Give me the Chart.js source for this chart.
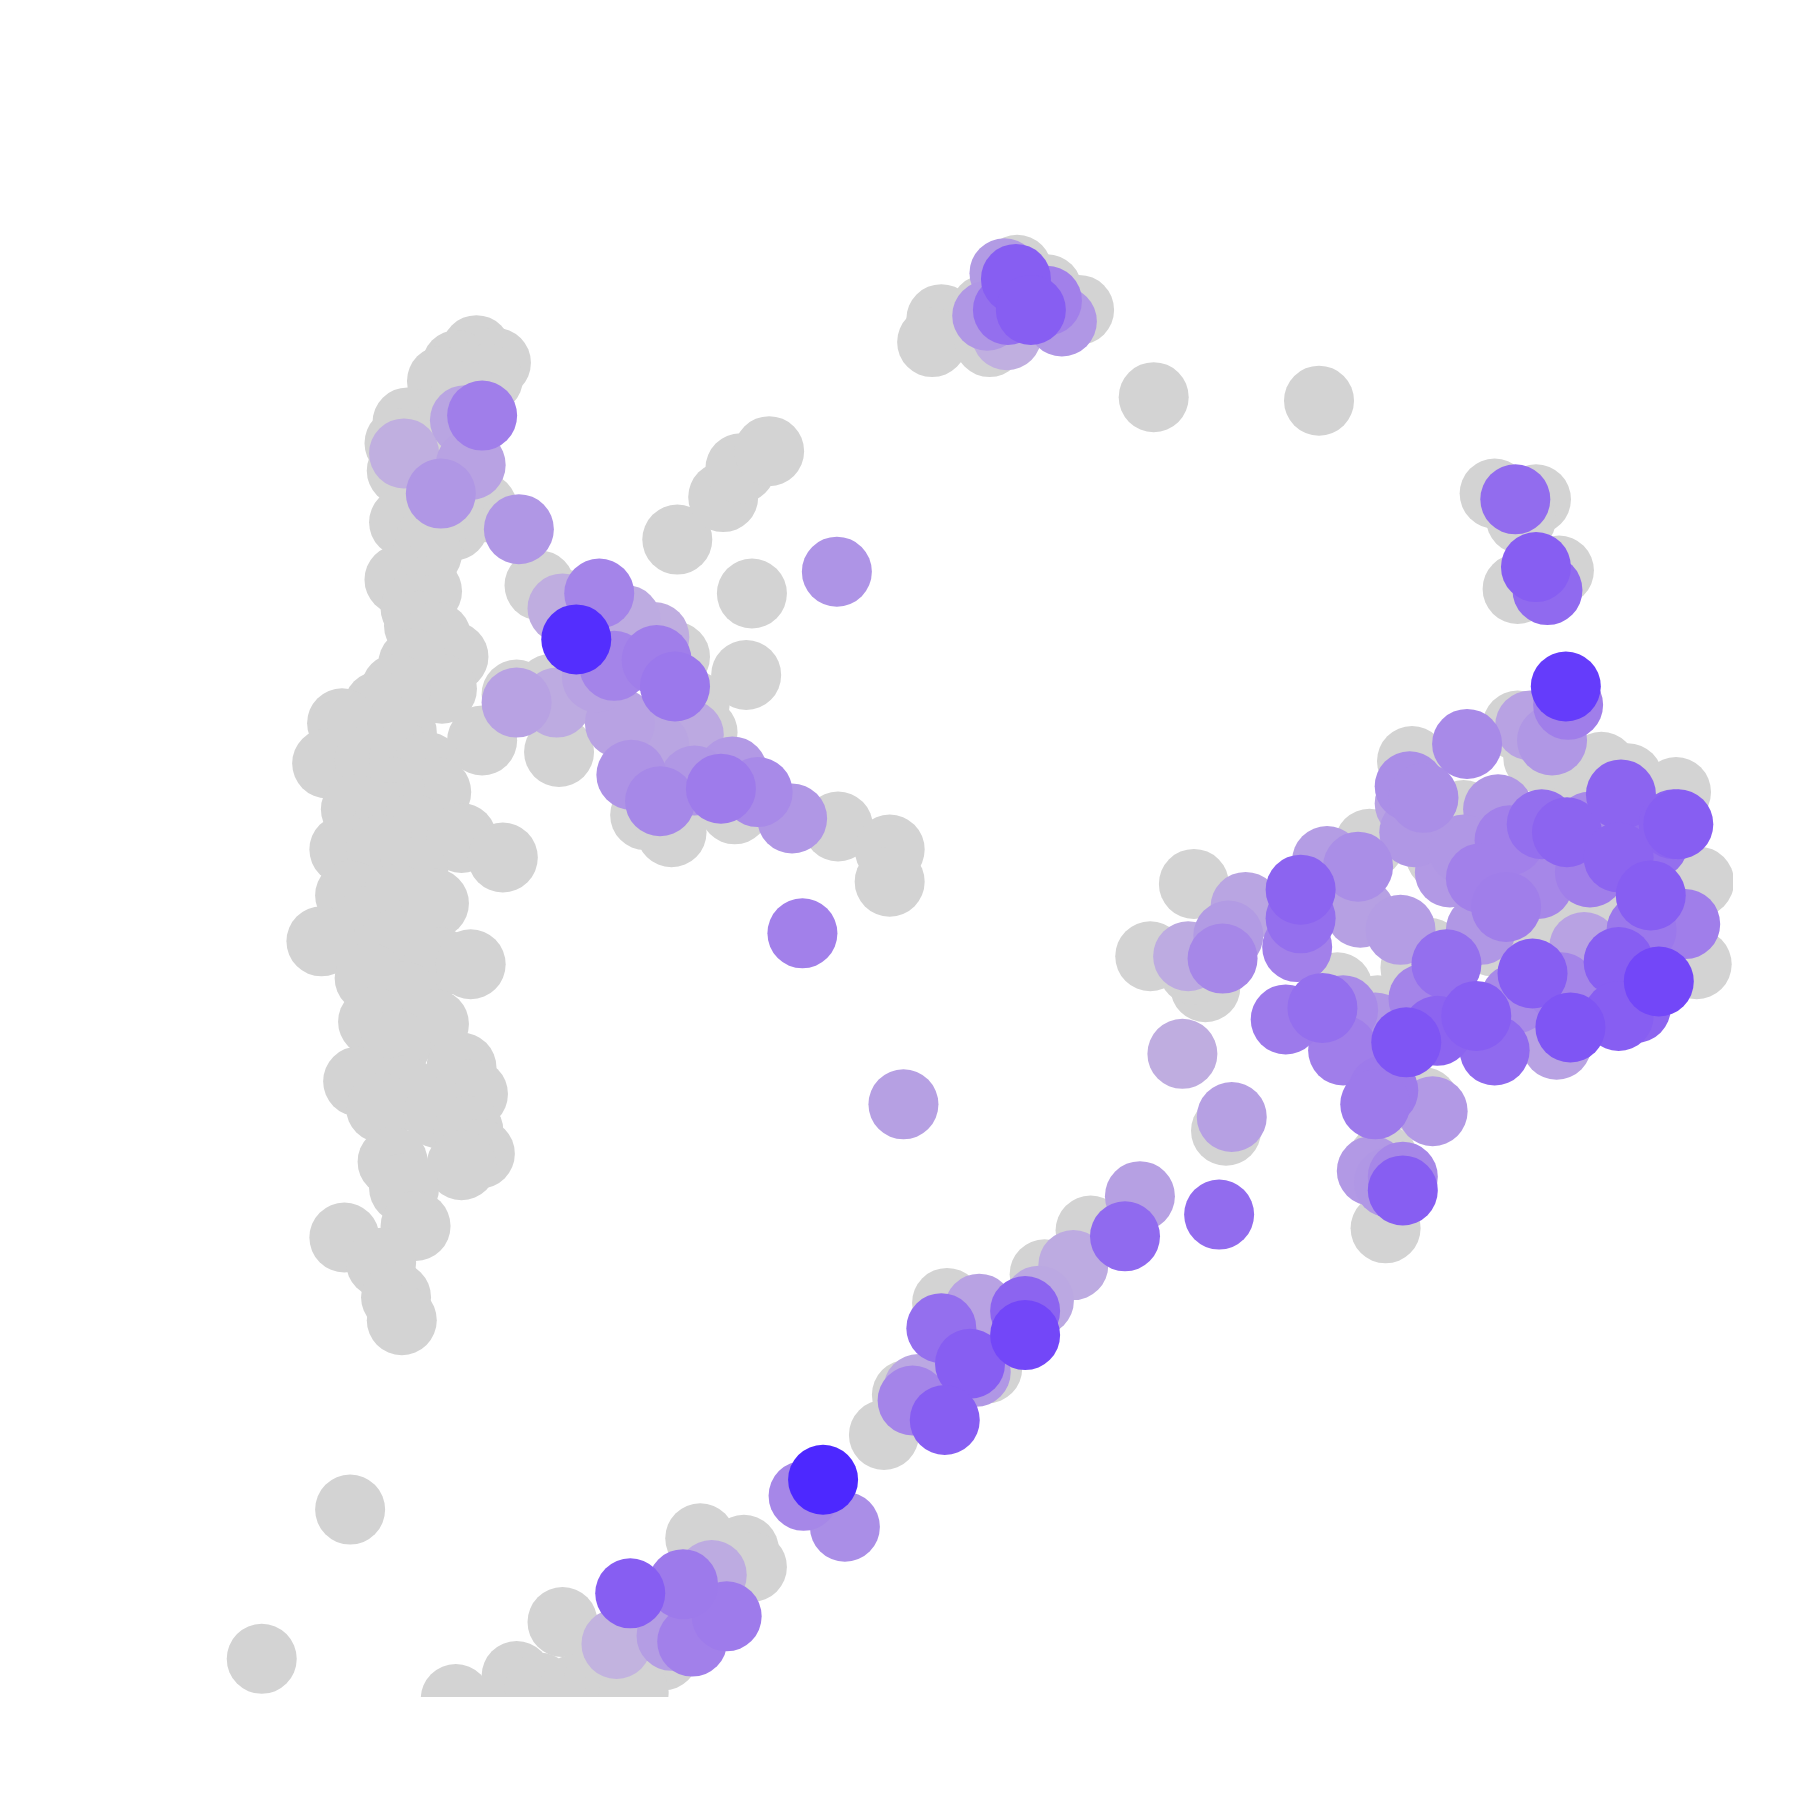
<!DOCTYPE html>
<html>
<head>
<meta charset="utf-8">
<script src="https://cdn.jsdelivr.net/npm/chart.js@4.4.1/dist/chart.umd.min.js"></script>
<style>
html,body{margin:0;padding:0;background:#ffffff;}
#wrap{width:1800px;height:1800px;position:relative;}
</style>
</head>
<body>
<div id="wrap"><canvas id="c"></canvas></div>
<script>
// Background (non-expressing) points: x, y
const greyX = [415,398,432,385,425,405,355,392,348,370,350,375,362,420,352,395,375,372,348,372,362,365,380,395,360,385,345,330,298,350,420,285,322,352,372,380,340,310,340,360,402,300,332,438,360,305,345,378,322,280,342,382,410,322,352,325,378,345,402,312,352,412,332,382,408,342,418,402,352,362,300,332,345,350,305,228,
470,495,540,555,590,630,645,670,655,650,588,605,612,565,487,562,585,640,730,775,775,510,450,480,
820,812,862,886,912,940,858,1005,1149,1302,1338,1325,1358,1322,
1230,1193,1275,1380,1395,1418,1460,1480,1478,1455,1420,1400,1350,1330,1300,1245,1233,1285,1255,1240,1207,1205,1200,1165,1040,1002,1050,1068,1040,1340,1322,
950,910,825,770,648,610,655,490,578,450,397,470,500,522,540,552,790,860];
const greyY = [305,318,316,332,330,345,368,368,386,390,410,412,432,442,455,458,470,482,505,515,530,545,555,572,578,600,600,615,630,638,645,665,662,660,668,690,690,705,712,722,730,740,740,747,760,780,783,787,802,820,823,838,840,852,868,890,892,910,930,942,950,953,965,970,985,1012,1005,1015,1035,1068,1078,1100,1130,1150,1315,1445,
510,527,540,565,470,433,408,393,517,588,572,615,638,640,655,710,725,705,720,740,768,560,605,600,
278,298,298,235,252,270,270,346,349,430,435,452,497,513,
663,735,710,690,668,678,690,768,840,820,860,800,805,805,820,830,843,760,745,960,1070,1010,880,860,770,833,860,985,845,660,632,
1072,1110,1135,1250,1350,1340,1365,1413,1442,1460,1480,1470,1472,1462,1468,1474,1215,1192];

// Expressing points: x, y, expression level (0..1)
const exprX = [420,405,352,410,384,452,522,490,502,545,535,570,572,588,485,450,540,570,550,605,575,638,628,660,690,729,699,787,600,520,
875,885,878,898,925,912,860,877,
1320,1338,1348,
1364,1366,1352,1333,1278,1228,1240,1228,1232,1305,1315,1343,1365,1412,1458,1462,1440,1410,1438,1468,1410,1445,1410,1425,1368,1356,1335,1380,1312,1290,1340,1260,1286,1302,1252,1225,1198,1205,1198,1248,1195,1222,1222,1170,1152,1120,1130,1133,1133,1183,1156,1185,1220,1263,1085,1070,1065,1035,1030,1073,1062,1385,1430,1360,1320,1290,1240,1170,1385,1275,1210,
993,980,935,905,893,893,853,820,845,850,800,795,823,717,700,736,620,595,549,633,603,585,537];
const exprY = [362,366,395,405,430,461,517,530,557,540,580,555,575,598,612,612,630,650,675,680,698,672,687,690,713,498,813,962,640,590,
238,243,270,270,280,262,275,292,
435,494,514,
598,614,645,632,648,685,695,700,725,705,732,718,725,692,718,718,735,747,780,805,838,855,885,878,895,910,848,825,790,765,770,840,885,915,898,908,895,950,962,968,1020,1025,1037,915,878,888,825,800,775,755,750,795,810,760,790,815,835,833,918,973,1058,760,810,860,870,810,870,880,720,740,1030,
1042,1077,1102,1133,1142,1163,1140,1157,1188,1195,1210,1220,1237,1289,1303,1330,1372,1380,1388,1408,1430,1425,1432];
const exprLevel = [0.5,0.18,0.08,0.2,0.3,0.3,0.45,0.1,0.98,0.12,0.45,0.1,0.5,0.55,0.12,0.2,0.2,0.18,0.33,0.3,0.42,0.28,0.52,0.4,0.3,0.32,0.48,0.22,0.14,0.2,
0.27,0.75,0.62,0.75,0.3,0.48,0.3,0.08,
0.64,0.75,0.66,
0.93,0.5,0.3,0.2,0.4,0.37,0.37,0.2,0.3,0.3,0.48,0.62,0.7,0.7,0.7,0.75,0.62,0.7,0.75,0.5,0.75,0.88,0.75,0.7,0.8,0.2,0.75,0.2,0.5,0.48,0.43,0.62,0.75,0.66,0.7,0.8,0.3,0.53,0.53,0.28,0.28,0.43,0.75,0.5,0.62,0.53,0.48,0.62,0.7,0.37,0.25,0.22,0.25,0.28,0.18,0.27,0.43,0.12,0.1,0.22,0.64,0.5,0.55,0.45,0.4,0.3,0.45,0.4,0.4,0.3,0.3,
0.22,0.66,0.12,0.15,0.7,0.88,0.2,0.62,0.75,0.3,0.15,0.45,0.75,1.0,0.43,0.37,0.12,0.53,0.75,0.52,0.48,0.25,0.05];

// colour map stops
const stopPos = [0, 0.25, 0.5, 0.75, 0.9, 1];
const stopCol = [[198,184,222],[180,157,228],[160,126,234],[135,94,242],[112,68,249],[77,40,255]];
function cmap(v){
  for(let i=1;i<stopPos.length;i++){
    if(v<=stopPos[i]){
      const t=(v-stopPos[i-1])/(stopPos[i]-stopPos[i-1]);
      const a=stopCol[i-1], b=stopCol[i];
      return 'rgb('+Math.round(a[0]+(b[0]-a[0])*t)+','+Math.round(a[1]+(b[1]-a[1])*t)+','+Math.round(a[2]+(b[2]-a[2])*t)+')';
    }
  }
  const c=stopCol[stopCol.length-1];
  return 'rgb('+c[0]+','+c[1]+','+c[2]+')';
}

const greyData = greyX.map((x,i)=>({x:x,y:greyY[i]}));
const exprData = exprX.map((x,i)=>({x:x,y:exprY[i],v:exprLevel[i]})).sort((a,b)=>a.v-b.v);

const k = 1568/1800;
new Chart(document.getElementById('c'), {
  type:'scatter',
  data:{datasets:[
    {data:greyData, order:2, backgroundColor:'#d3d3d3', borderWidth:0, pointRadius:35, pointHoverRadius:35, clip:0},
    {data:exprData, order:1, backgroundColor:(ctx)=>ctx.raw?cmap(ctx.raw.v):'#999', borderWidth:0, pointRadius:35, pointHoverRadius:35, clip:0}
  ]},
  options:{
    responsive:true, maintainAspectRatio:false, animation:false,
    layout:{padding:{left:67,top:67,right:67,bottom:103}},
    plugins:{legend:{display:false},tooltip:{enabled:false}},
    scales:{
      x:{type:'linear',display:false,min:67*k,max:1733*k},
      y:{type:'linear',display:false,reverse:true,min:67*k,max:1697*k}
    }
  }
});
</script>
</body>
</html>
